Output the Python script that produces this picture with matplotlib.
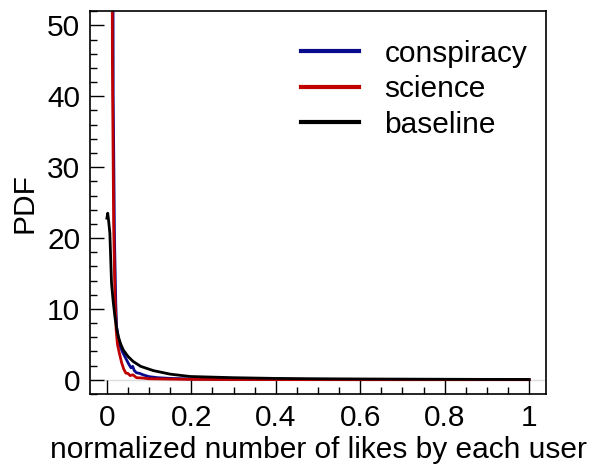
import numpy as np
import matplotlib.pyplot as plt
from matplotlib.ticker import MultipleLocator

plt.rcParams['font.family'] = ['Liberation Sans', 'DejaVu Sans']

# values
x_consp = [0.0125, 0.015, 0.018, 0.021, 0.023, 0.027, 0.031, 0.038, 0.045, 0.051, 0.057,
           0.061, 0.065, 0.070, 0.078, 0.086, 0.10, 0.12, 0.15, 0.2, 0.3, 0.4, 0.6, 0.8, 1.0]
y_consp = [120, 40, 20, 11, 7.5, 6.0, 4.8, 3.8, 3.0, 2.3, 1.7,
           1.9, 1.3, 1.0, 0.9, 0.7, 0.45, 0.3, 0.2, 0.12, 0.08, 0.06, 0.05, 0.04, 0.03]

x_sci = [0.011, 0.013, 0.016, 0.019, 0.022, 0.025, 0.029, 0.035, 0.040, 0.045, 0.050,
         0.055, 0.062, 0.070, 0.085, 0.10, 0.15, 0.2, 0.3, 0.4, 0.6, 0.8, 1.0]
y_sci = [120, 45, 22, 12, 7.0, 5.0, 3.9, 2.4, 1.5, 0.95, 0.9,
         0.6, 0.7, 0.3, 0.25, 0.15, 0.1, 0.06, 0.04, 0.03, 0.02, 0.02, 0.02]

x_base = [0.0, 0.002, 0.004, 0.007, 0.011, 0.015, 0.019, 0.023, 0.027, 0.033, 0.039,
          0.050, 0.062, 0.080, 0.11, 0.15, 0.197, 0.25, 0.3, 0.4, 0.5, 0.6, 0.7, 0.8, 0.9, 1.0]
y_base = [22.8, 23.5, 22.5, 20.7, 13.6, 11.0, 8.9, 7.3, 6.1, 5.0, 4.2,
          3.3, 2.6, 1.9, 1.3, 0.8, 0.47, 0.38, 0.3, 0.2, 0.15, 0.12, 0.1, 0.08, 0.06, 0.05]

labels = ['conspiracy', 'science', 'baseline']
colors = ['#0a0a8c', '#c00000', 'black']

fig = plt.figure(figsize=(5.98, 4.66), dpi=100)
ax = fig.add_axes([0.1505, 0.1545, 0.7625, 0.8215])

ax.axhline(0, color='#dddddd', lw=1, zorder=0)
ax.plot(x_consp, y_consp, color=colors[0], lw=2, label=labels[0])
ax.plot(x_sci, y_sci, color=colors[1], lw=2, label=labels[1])
ax.plot(x_base, y_base, color=colors[2], lw=2, label=labels[2])

ax.set_xlim(-0.04, 1.04)
ax.set_ylim(-2, 52)
ax.xaxis.set_major_locator(MultipleLocator(0.2))
ax.xaxis.set_minor_locator(MultipleLocator(0.05))
ax.yaxis.set_major_locator(MultipleLocator(10))
ax.yaxis.set_minor_locator(MultipleLocator(2))
ax.set_xticks([0, 0.2, 0.4, 0.6, 0.8, 1.0])
ax.set_xticklabels(['0', '0.2', '0.4', '0.6', '0.8', '1'])
ax.tick_params(which='both', direction='in', top=False, right=False, labelsize=21.5, width=1)
ax.tick_params(which='major', length=10, pad=7)
ax.tick_params(which='minor', length=5)
for s in ax.spines.values():
    s.set_linewidth(1.2)

ax.set_xlabel('normalized number of likes by each user', fontsize=21.5, labelpad=3)
ax.set_ylabel('PDF', fontsize=21.5, labelpad=6)

leg = ax.legend(loc='upper right', bbox_to_anchor=(0.985, 0.957), frameon=False,
                fontsize=21.5, handlelength=1.95, handletextpad=0.85,
                labelspacing=0.25, borderaxespad=0)
for h in leg.get_lines():
    h.set_linewidth(3)

fig.savefig('out.png', dpi=100)
